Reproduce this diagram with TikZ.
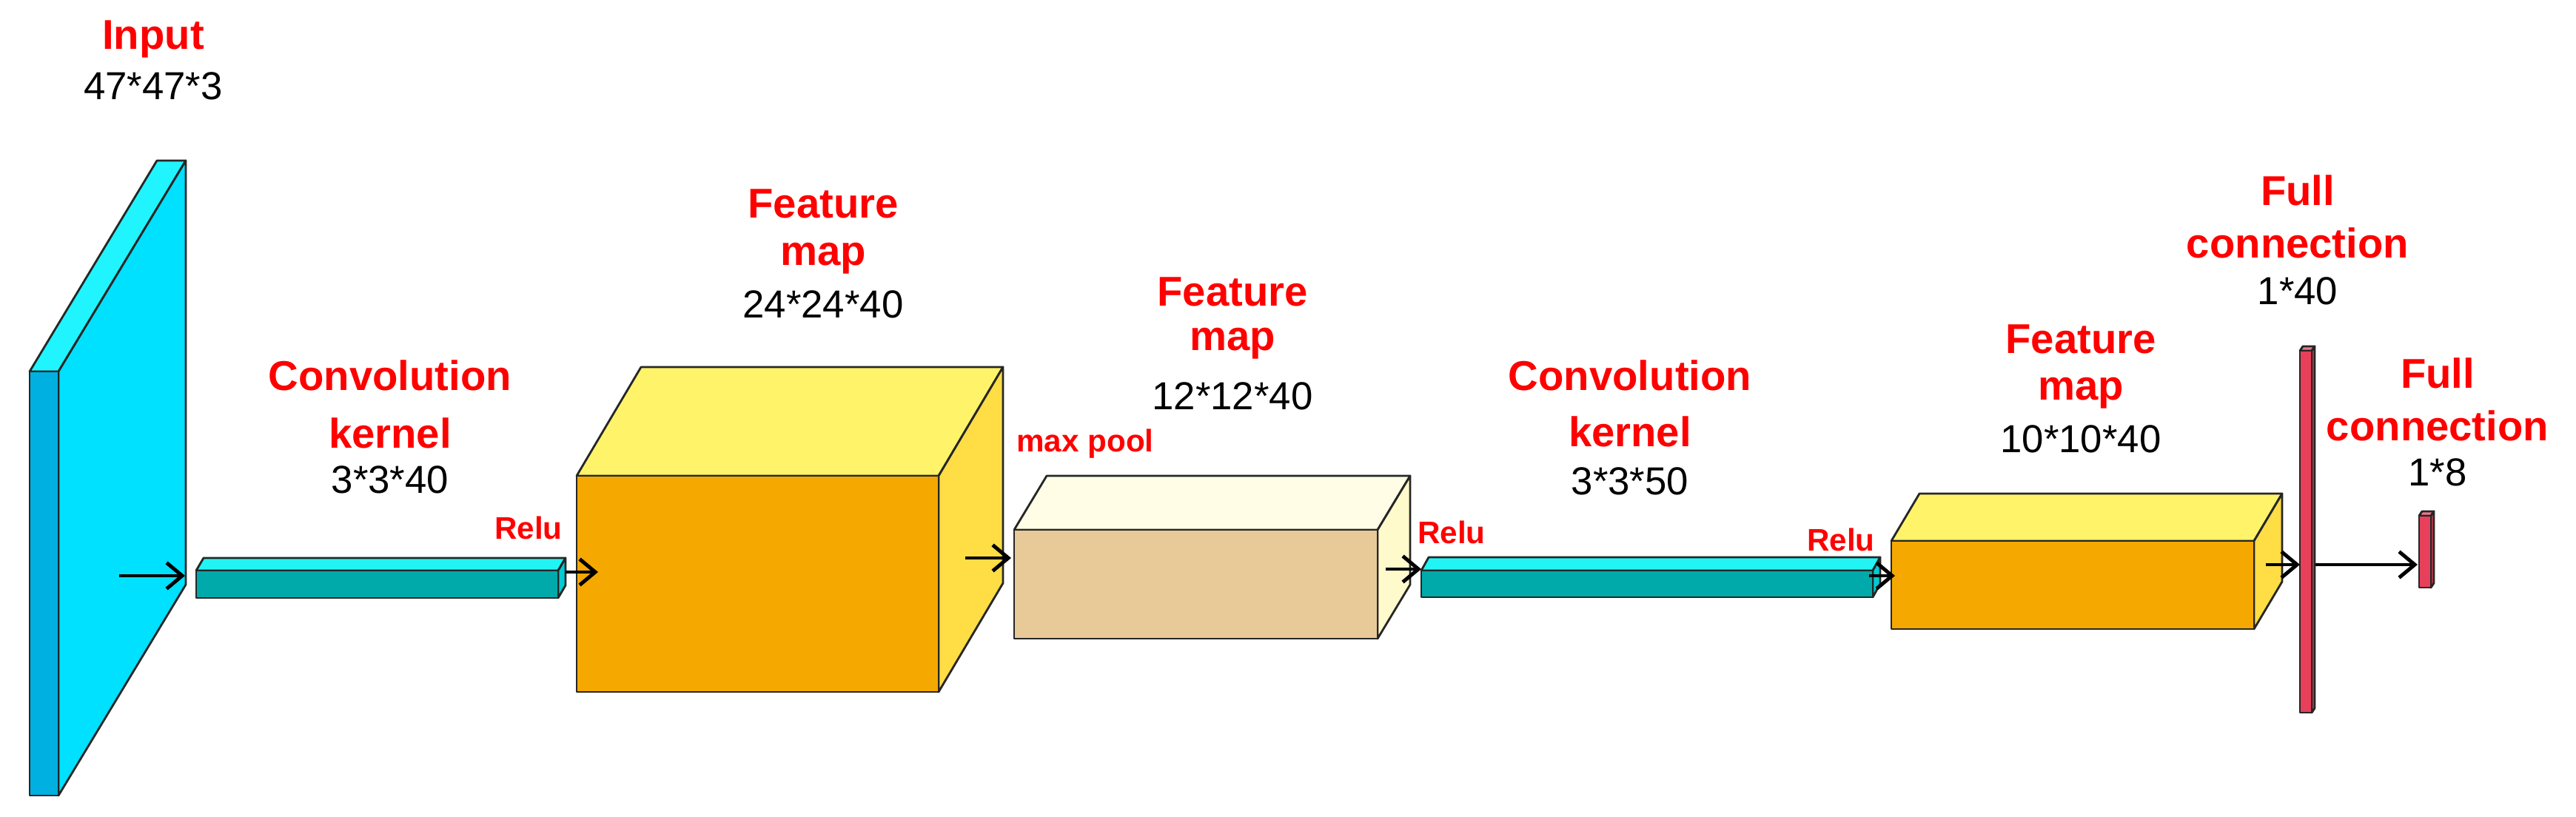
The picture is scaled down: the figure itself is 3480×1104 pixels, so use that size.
\documentclass[tikz,border=0pt]{standalone}
\usepackage{fontspec}
\setmainfont{Liberation Sans}
\usetikzlibrary{arrows.meta}
\definecolor{cyfront}{HTML}{00B0E0}
\definecolor{cyside}{HTML}{00E0FF}
\definecolor{cytop}{HTML}{20F4FF}
\definecolor{kfront}{HTML}{00AAAA}
\definecolor{ktop}{HTML}{22F4F4}
\definecolor{kside}{HTML}{00CCD4}
\definecolor{ofront}{HTML}{F5A800}
\definecolor{otop}{HTML}{FFF36A}
\definecolor{oside}{HTML}{FFDD44}
\definecolor{pfront}{HTML}{E8CA98}
\definecolor{ptop}{HTML}{FFFDE6}
\definecolor{pside}{HTML}{FFFACC}
\definecolor{rfront}{HTML}{E8405A}
\definecolor{rtop}{HTML}{F07888}
\definecolor{lblred}{HTML}{FF0000}
% #1 x, #2 y (front top-left), #3 w, #4 h, #5 dx, #6 dy, #7 front, #8 top, #9 side
\newcommand{\cuboid}[9]{%
  \draw[faceline,fill=#8] (#1,#2) -- ++(#5,#6) -- ++(#3,0) -- ++(-#5,-#6) -- cycle;
  \draw[faceline,fill=#9] (#1+#3,#2) -- ++(#5,#6) -- ++(0,#4) -- ++(-#5,-#6) -- cycle;
  \draw[faceline,fill=#7] (#1,#2) rectangle ++(#3,#4);
}
\tikzset{
  faceline/.style={draw=black!85,line width=0.8pt,line join=round},
  title/.style={text=lblred,font=\fontsize{16}{16}\selectfont\bfseries,align=center,inner sep=0pt},
  dims/.style={text=black,font=\fontsize{15}{15}\selectfont,inner sep=0pt},
  small/.style={text=lblred,font=\fontsize{12}{12}\selectfont\bfseries,inner sep=0pt},
  flow/.style={line width=1.4pt,-{Straight Barb[length=6pt,width=10pt,line width=1.4pt]}}
}
\begin{document}
\begin{tikzpicture}[x=0.01cm,y=-0.01cm]
\useasboundingbox (0,0) rectangle (3480,1104);
% input slab
\cuboid{40}{502}{39}{573}{172}{-285}{cyfront}{cytop}{cyside}
% kernel bar 1
\cuboid{265}{771}{489}{37}{10}{-17}{kfront}{ktop}{kside}
% cube 1
\cuboid{779}{643}{489}{292}{87}{-147}{ofront}{otop}{oside}
% pool box
\cuboid{1370}{716}{491}{147}{44}{-73}{pfront}{ptop}{pside}
% kernel bar 2
\cuboid{1920}{771}{610}{36}{10}{-18}{kfront}{ktop}{kside}
% cube 2
\cuboid{2555}{731}{490}{119}{38}{-64}{ofront}{otop}{oside}
% FC bars
\cuboid{3107}{474}{16}{489}{4}{-6}{rfront}{rtop}{rfront}
\cuboid{3268}{697}{16}{97}{4}{-6}{rfront}{rtop}{rfront}

% connector endpoints
\coordinate (a0) at (161,778); \coordinate (a1) at (250,778);
\coordinate (b0) at (764,773); \coordinate (b1) at (808,773);
\coordinate (c0) at (1304,754); \coordinate (c1) at (1366,754);
\coordinate (d0) at (1872,769); \coordinate (d1) at (1920,769);
\coordinate (e0) at (2525,778); \coordinate (e1) at (2560,778);
\coordinate (f0) at (3061,763); \coordinate (f1) at (3107,763);
\coordinate (g0) at (3128,763); \coordinate (g1) at (3266,763);
\draw[flow] (a0) -- (a1);
\draw[flow] (b0) -- (b1);
\draw[flow] (c0) -- (c1);
\draw[flow] (d0) -- (d1);
\draw[flow] (e0) -- (e1);
\draw[flow] (f0) -- (f1);
\draw[flow] (g0) -- (g1);

% labels
\node[title] (t1) at (207,53) {Input};
\node[dims] (n1) at (207,116) {47*47*3};
\node[title] (t2a) at (527,507) {Convolution};
\node[title] (t2b) at (527,585) {kernel};
\node[dims] (n2) at (527,648) {3*3*40};
\node[small] (r1) at (714,713) {Relu};
\node[title] (t3a) at (1112,275) {Feature};
\node[title] (t3b) at (1112,349) {map};
\node[dims] (n3) at (1112,411) {24*24*40};
\node[small] (mp) at (1466,600) {max pool};
\node[title] (t4a) at (1665,394) {Feature};
\node[title] (t4b) at (1665,464) {map};
\node[dims] (n4) at (1665,535) {12*12*40};
\node[small] (r2) at (1961,719) {Relu};
\node[title] (t5a) at (2202,507) {Convolution};
\node[title] (t5b) at (2202,583) {kernel};
\node[dims] (n5) at (2202,650) {3*3*50};
\node[small] (r3) at (2487,729) {Relu};
\node[title] (t6a) at (2811,458) {Feature};
\node[title] (t6b) at (2811,531) {map};
\node[dims] (n6) at (2811,593) {10*10*40};
\node[title] (t7a) at (3104,257) {Full};
\node[title] (t7b) at (3104,328) {connection};
\node[dims] (n7) at (3104,393) {1*40};
\node[title] (t8a) at (3293,504) {Full};
\node[title] (t8b) at (3293,575) {connection};
\node[dims] (n8) at (3293,638) {1*8};
\end{tikzpicture}
\end{document}
